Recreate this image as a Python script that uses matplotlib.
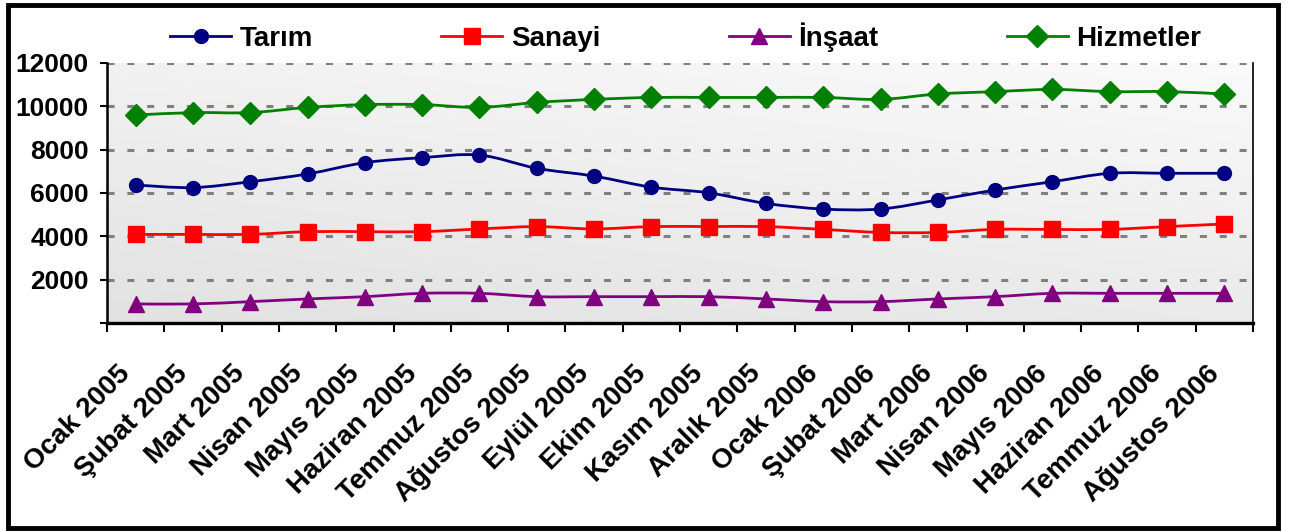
import numpy as np
import matplotlib
matplotlib.use("Agg")
import matplotlib.pyplot as plt
from matplotlib.lines import Line2D
from matplotlib.path import Path
from matplotlib.patches import PathPatch, Rectangle

# Data
months = ["Ocak 2005", "Şubat 2005", "Mart 2005", "Nisan 2005", "Mayıs 2005",
          "Haziran 2005", "Temmuz 2005", "Ağustos 2005", "Eylül 2005", "Ekim 2005",
          "Kasım 2005", "Aralık 2005", "Ocak 2006", "Şubat 2006", "Mart 2006",
          "Nisan 2006", "Mayıs 2006", "Haziran 2006", "Temmuz 2006", "Ağustos 2006"]
tarim = [6370, 6250, 6520, 6880, 7400, 7630, 7750, 7140, 6780, 6270,
         6010, 5520, 5260, 5260, 5680, 6140, 6520, 6910, 6910, 6910]
sanayi = [4090, 4090, 4090, 4215, 4215, 4215, 4340, 4450, 4340, 4450,
          4450, 4450, 4320, 4180, 4180, 4320, 4320, 4320, 4450, 4570]
insaat = [880, 880, 985, 1110, 1215, 1370, 1370, 1215, 1215, 1215,
          1215, 1110, 985, 985, 1110, 1215, 1370, 1370, 1370, 1370]
hizmetler = [9600, 9710, 9710, 9950, 10080, 10080, 9950, 10180, 10320, 10410,
             10410, 10410, 10410, 10320, 10570, 10680, 10780, 10680, 10680, 10570]

series = [
    ("Tarım", tarim, "#000080", "o", 10),
    ("Sanayi", sanayi, "#ff0000", "s", 11.5),
    ("İnşaat", insaat, "#800080", "^", 11.5),
    ("Hizmetler", hizmetler, "#008000", "D", 11),
]

FONT = "Liberation Sans"
plt.rcParams["font.family"] = [FONT, "DejaVu Sans"]


def smooth_path(x, y):
    """Excel-like smoothed line through the points (cubic Bezier segments)."""
    pts = np.column_stack([x, y]).astype(float)
    n = len(pts)
    verts = [pts[0]]
    codes = [Path.MOVETO]
    for i in range(n - 1):
        p0 = pts[i - 1] if i > 0 else pts[i]
        p1 = pts[i]
        p2 = pts[i + 1]
        p3 = pts[i + 2] if i + 2 < n else pts[i + 1]
        verts += [p1 + (p2 - p0) / 6, p2 - (p3 - p1) / 6, p2]
        codes += [Path.CURVE4] * 3
    return Path(verts, codes)


fig = plt.figure(figsize=(12.9, 5.31), dpi=100)
ax = fig.add_axes([107 / 1290, 1 - 323 / 531, (1253 - 107) / 1290, (323 - 63) / 531])

# gradient background of the plot area
gx, gy = np.meshgrid(np.linspace(0, 1, 200), np.linspace(0, 1, 100))
grad = 0.885 + 0.095 * (0.65 * gy + 0.35 * gx)
ax.imshow(np.dstack([grad] * 3), extent=(0, 1, 0, 1), transform=ax.transAxes,
          origin="lower", aspect="auto", zorder=0, interpolation="bilinear")

x = np.arange(len(months))
handles = []
for name, vals, color, marker, ms in series:
    ax.add_patch(PathPatch(smooth_path(x, vals), fill=False, edgecolor=color,
                           lw=2.0, zorder=3, capstyle="round", joinstyle="round"))
    ax.plot(x, vals, linestyle="none", marker=marker, ms=ms, color=color,
            markeredgecolor=color, zorder=4, clip_on=False)
    handles.append(Line2D([], [], color=color, lw=2.0, marker=marker, ms=ms))

ax.set_xlim(-0.5, len(months) - 0.5)
ax.set_ylim(0, 12000)

yticks = list(range(0, 12001, 2000))
ax.set_yticks(yticks)
ax.set_yticklabels(["" if v == 0 else str(v) for v in yticks],
                   fontsize=19, fontweight="bold")
ax.set_xticks(x)
ax.set_xticklabels(months, rotation=45, ha="right", va="top", fontsize=20,
                   fontweight="bold")
ax.set_xticks(np.arange(-0.5, len(months)), minor=True)
ax.tick_params(axis="x", which="major", length=0, pad=27)
ax.tick_params(axis="x", which="minor", length=6.5, width=1.5, color="black")
ax.tick_params(axis="y", length=5, width=1.5, pad=8, color="black")

ax.yaxis.grid(True, color="#808080", lw=2.2, linestyle=(0, (2.3, 4.2)), zorder=1)
ax.set_axisbelow(True)
for gl in ax.get_ygridlines():
    gl.set_zorder(1)

ax.spines["top"].set_visible(False)
ax.spines["left"].set_linewidth(1.8)
ax.spines["bottom"].set_linewidth(2.4)
ax.spines["right"].set_linewidth(1.2)

fig.legend(handles, [s[0] for s in series], loc="center",
           bbox_to_anchor=(170 / 1290, 1 - 52 / 531, (1201 - 170) / 1290, 30 / 531),
           mode="expand", ncol=4, frameon=False,
           prop={"family": FONT, "weight": "bold", "size": 20},
           handlelength=2.2, handletextpad=0.3, borderaxespad=0, borderpad=0)

# outer frame of the chart
fig.patches.append(Rectangle((8 / 1290, 3 / 531), 1270 / 1290, 523 / 531,
                             transform=fig.transFigure, fill=False,
                             edgecolor="black", lw=3.5))

fig.savefig("out.png", dpi=100)
